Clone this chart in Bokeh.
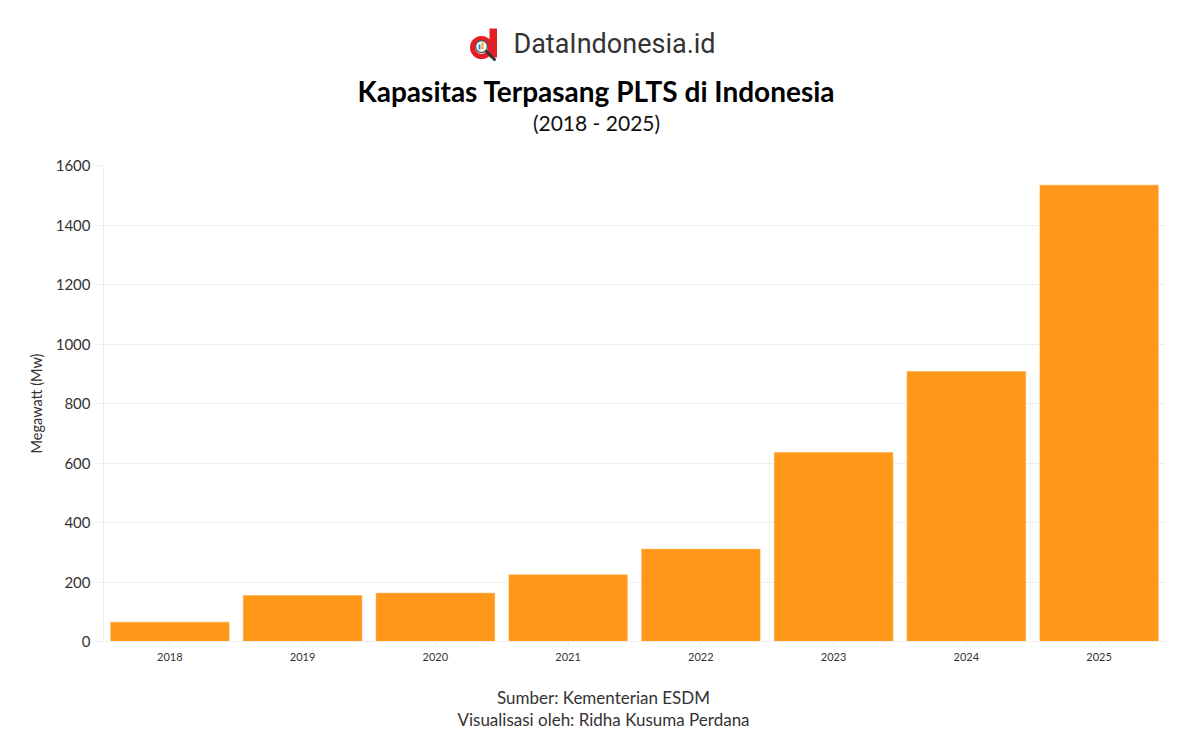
from bokeh.plotting import figure
from bokeh.models import Label, FactorRange, Range1d
from bokeh.layouts import column
from bokeh.embed import file_html
from bokeh.resources import INLINE

years = ["2018", "2019", "2020", "2021", "2022", "2023", "2024", "2025"]
capacity_mw = [66, 156, 164, 226, 312, 637, 909, 1535]
y_ticks = [0, 200, 400, 600, 800, 1000, 1200, 1400, 1600]

title_text = "Kapasitas Terpasang PLTS di Indonesia"
subtitle_text = "(2018 - 2025)"
brand_text = "DataIndonesia.id"
source_text = "Sumber: Kementerian ESDM"
credit_text = "Visualisasi oleh: Ridha Kusuma Perdana"
y_label = "Megawatt (Mw)"

FONT = "Lato"
W = 1185
HEAD_H = 150
FOOT_H = 57
FRAME_L, FRAME_R = 103, 1165   # page x of the chart frame (children frames are aligned)


def blank(h):
    f = figure(width=W, height=h, x_range=Range1d(FRAME_L, FRAME_R), y_range=Range1d(0, h),
               output_backend="svg", toolbar_location=None,
               x_axis_location=None, y_axis_location=None,
               min_border=0, min_border_left=0, min_border_right=0,
               min_border_top=0, min_border_bottom=0)
    f.grid.visible = False
    f.outline_line_color = None
    f.background_fill_color = "white"
    f.border_fill_color = "white"
    return f


def lab(f, h, text, X, Y, size, color="#222222", style="normal", font=FONT):
    f.add_layout(Label(x=X, y=h - Y, text=text, text_align="center",
                       text_baseline="middle", text_font=font,
                       text_font_size=size, text_font_style=style,
                       text_color=color))


# ---------- header ----------
head = blank(HEAD_H)
hy = lambda Y: HEAD_H - Y
# logo icon (decoration)
head.annulus(x=[481], y=[hy(47)], inner_radius=6.5, outer_radius=11.5,
             inner_radius_units="screen", outer_radius_units="screen",
             fill_color="#E31E24", line_color=None)
head.quad(left=[489], right=[496.5], top=[hy(28)], bottom=[hy(57)],
          fill_color="#E31E24", line_color=None)
head.scatter(x=[481], y=[hy(46)], size=12, marker="circle",
             fill_color="white", line_color="#555555", line_width=1.5)
head.quad(left=[478], right=[480], top=[hy(44)], bottom=[hy(49)],
          fill_color="#2F80ED", line_color=None)
head.quad(left=[481], right=[483], top=[hy(42)], bottom=[hy(49)],
          fill_color="#F5A623", line_color=None)
head.segment(x0=[486], y0=[hy(51)], x1=[494], y1=[hy(59)],
             line_color="#333333", line_width=3, line_cap="round")
lab(head, HEAD_H, brand_text, 614, 43, "27px", color="#333333", font="Roboto")
lab(head, HEAD_H, title_text, 596, 90, "28px", color="#000000", style="bold")
lab(head, HEAD_H, subtitle_text, 596, 122, "21px", color="#111111")

# ---------- main chart ----------
p = figure(
    x_range=FactorRange(factors=years, range_padding=0),
    y_range=Range1d(0, 1600),
    width=W, height=530,
    output_backend="svg", toolbar_location=None,
    min_border_left=FRAME_L, min_border_right=W - FRAME_R,
    min_border_top=15, min_border_bottom=39,
)
p.outline_line_color = None
p.background_fill_color = "white"
p.border_fill_color = "white"

p.vbar(x=years, top=capacity_mw, width=0.9,
       fill_color="#FF8C00", fill_alpha=0.9,
       line_color="white", line_alpha=0.6, line_width=1)

p.xgrid.grid_line_color = None
p.ygrid.grid_line_color = "#EEEEEE"
p.ygrid.grid_line_width = 1

p.yaxis.ticker = y_ticks
p.yaxis.axis_line_color = "#EEEEEE"
p.yaxis.major_tick_line_color = "#EEEEEE"
p.yaxis.major_tick_out = 8
p.yaxis.major_tick_in = 0
p.yaxis.minor_tick_line_color = None
p.yaxis.major_label_text_font = FONT
p.yaxis.major_label_text_font_size = "15px"
p.yaxis.major_label_text_color = "#333333"
p.yaxis.major_label_standoff = 5
p.yaxis.axis_label = y_label
p.yaxis.axis_label_text_font = FONT
p.yaxis.axis_label_text_font_size = "14.5px"
p.yaxis.axis_label_text_font_style = "normal"
p.yaxis.axis_label_text_color = "#333333"
p.yaxis.axis_label_standoff = 8

p.xaxis.axis_line_color = "#EEEEEE"
p.xaxis.major_tick_line_color = "#EEEEEE"
p.xaxis.major_tick_out = 5
p.xaxis.major_tick_in = 0
p.xaxis.minor_tick_line_color = None
p.xaxis.major_label_text_font = FONT
p.xaxis.major_label_text_font_size = "11px"
p.xaxis.major_label_text_color = "#333333"
p.xaxis.major_label_standoff = 6

# ---------- footer ----------
foot = blank(FOOT_H)
lab(foot, FOOT_H, source_text, 603, 697 - 680, "17px", color="#333333")
lab(foot, FOOT_H, credit_text, 603, 719 - 680, "17px", color="#333333")

layout = column(head, p, foot, spacing=0)
open("out.html", "w").write(file_html(layout, INLINE))
